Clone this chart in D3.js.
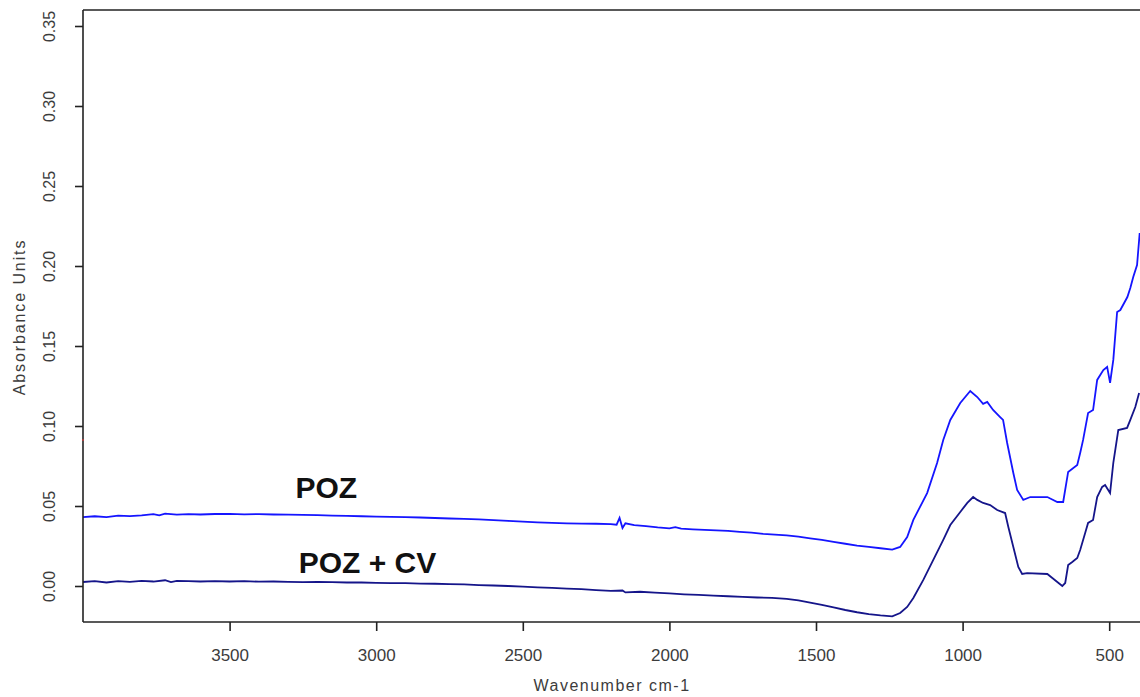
<!DOCTYPE html>
<html>
<head>
<meta charset="utf-8">
<script src="https://cdn.jsdelivr.net/npm/d3@7"></script>
<style>
  html, body { margin: 0; padding: 0; background: #fff; }
  svg { display: block; }
  text { font-family: Arial, "Liberation Sans", sans-serif; }
</style>
</head>
<body>
<svg id="chart" width="1140" height="697"></svg>
<script>
// ---- data ----
const xTicks = [3500, 3000, 2500, 2000, 1500, 1000, 500];
const yTicks = [0.00, 0.05, 0.10, 0.15, 0.20, 0.25, 0.30, 0.35];
const seriesNames = ["POZ", "POZ + CV"];

// POZ: [wavenumber, absorbance]
const pozWave = [4000,3960,3920,3880,3840,3800,3760,3740,3720,3680,3640,3600,3550,3500,3450,3400,3350,3300,3250,3200,3150,3100,3050,3000,2950,2900,2850,2800,2750,2700,2650,2600,2550,2500,2450,2400,2350,2300,2250,2200,2180,2170,2160,2150,2120,2080,2040,2000,1980,1960,1920,1880,1840,1800,1760,1720,1680,1640,1600,1560,1520,1480,1440,1400,1360,1320,1280,1240,1213,1189,1168,1121,1087,1066,1042,1008,974,950,930,916,896,872,862,848,827,814,793,769,711,677,657,640,609,599,589,572,555,541,520,507,497,486,473,462,438,428,418,405,396];
const pozAbs  = [0.0430,0.0436,0.0431,0.0440,0.0437,0.0442,0.0449,0.0441,0.0452,0.0446,0.0449,0.0447,0.0450,0.0451,0.0448,0.0449,0.0447,0.0446,0.0444,0.0443,0.0440,0.0438,0.0436,0.0434,0.0432,0.0430,0.0428,0.0425,0.0422,0.0420,0.0416,0.0412,0.0407,0.0402,0.0398,0.0394,0.0392,0.0390,0.0389,0.0387,0.0383,0.0425,0.0362,0.0392,0.0380,0.0374,0.0366,0.0360,0.0368,0.0358,0.0354,0.0351,0.0348,0.0344,0.0338,0.0333,0.0326,0.0321,0.0316,0.0308,0.0298,0.0288,0.0276,0.0264,0.0252,0.0244,0.0236,0.0228,0.0244,0.0306,0.0413,0.0581,0.0769,0.0913,0.1038,0.1144,0.1219,0.1181,0.1138,0.1150,0.1100,0.1056,0.1038,0.0894,0.0706,0.0600,0.0538,0.0556,0.0556,0.0525,0.0525,0.0713,0.0756,0.0831,0.0913,0.1081,0.1100,0.1288,0.1350,0.1369,0.1269,0.1413,0.1713,0.1725,0.1806,0.1863,0.1931,0.2006,0.2206];

// POZ + CV: [wavenumber, absorbance]
const cvWave = [4000,3960,3920,3880,3840,3800,3760,3720,3700,3680,3640,3600,3550,3500,3450,3400,3350,3300,3250,3200,3150,3100,3050,3000,2950,2900,2850,2800,2750,2700,2650,2600,2550,2500,2450,2400,2350,2300,2250,2200,2160,2150,2100,2050,2000,1950,1900,1850,1800,1750,1700,1650,1600,1560,1520,1480,1440,1400,1360,1320,1280,1240,1213,1189,1168,1134,1100,1066,1042,1008,984,964,950,930,906,882,855,844,827,810,797,780,711,694,660,650,640,626,609,599,582,572,555,541,524,514,497,486,469,439,428,411,398];
const cvAbs  = [0.0025,0.0030,0.0022,0.0030,0.0026,0.0032,0.0028,0.0036,0.0024,0.0032,0.0030,0.0028,0.0030,0.0028,0.0030,0.0027,0.0028,0.0026,0.0024,0.0026,0.0024,0.0022,0.0022,0.0020,0.0018,0.0018,0.0015,0.0014,0.0012,0.0010,0.0006,0.0003,0.0000,-0.0004,-0.0008,-0.0012,-0.0016,-0.0020,-0.0026,-0.0030,-0.0028,-0.0040,-0.0036,-0.0042,-0.0046,-0.0052,-0.0056,-0.0060,-0.0064,-0.0068,-0.0072,-0.0074,-0.0080,-0.0090,-0.0104,-0.0118,-0.0134,-0.0150,-0.0164,-0.0176,-0.0184,-0.0190,-0.0169,-0.0131,-0.0075,0.0038,0.0163,0.0288,0.0381,0.0463,0.0519,0.0556,0.0538,0.0519,0.0506,0.0475,0.0456,0.0369,0.0244,0.0119,0.0075,0.0081,0.0075,0.0050,0.0000,0.0019,0.0131,0.0150,0.0175,0.0225,0.0331,0.0394,0.0413,0.0556,0.0619,0.0631,0.0581,0.0769,0.0975,0.0988,0.1038,0.1119,0.1206];

// ---- chart ----
const svg = d3.select("#chart");
const mLeft = 83, mTop = 10, mBottom = 622, mRight = 1140;

const x = d3.scaleLinear().domain([4000, 400]).range([mLeft, mLeft + 3600 * 0.2932]);
const y = d3.scaleLinear().domain([-0.0225, 0.36]).range([mBottom, mTop]);

const line = d3.line().x(d => x(d[0])).y(d => y(d[1]));
const poz = pozWave.map((w, i) => [w, pozAbs[i]]);
const cv = cvWave.map((w, i) => [w, cvAbs[i]]);

svg.append("path").datum(poz)
  .attr("fill", "none").attr("stroke", "#1515ff").attr("stroke-width", 1.8)
  .attr("d", line);
svg.append("path").datum(cv)
  .attr("fill", "none").attr("stroke", "#15158a").attr("stroke-width", 1.8)
  .attr("d", line);

// frame
svg.append("line").attr("x1", mLeft).attr("x2", mRight + 2).attr("y1", mTop).attr("y2", mTop)
  .attr("stroke", "#222").attr("stroke-width", 1.6);
svg.append("line").attr("x1", mLeft).attr("x2", mRight + 2).attr("y1", mBottom).attr("y2", mBottom)
  .attr("stroke", "#222").attr("stroke-width", 1.6);
svg.append("line").attr("x1", mLeft).attr("x2", mLeft).attr("y1", mTop).attr("y2", mBottom)
  .attr("stroke", "#222").attr("stroke-width", 1.6);

// small red mark on axis
svg.append("line").attr("x1", mLeft - 1).attr("x2", mLeft + 1).attr("y1", 440).attr("y2", 440)
  .attr("stroke", "#e33").attr("stroke-width", 1);

// y axis
const yAxis = svg.append("g").attr("transform", `translate(${mLeft},0)`)
  .call(d3.axisLeft(y).tickValues(yTicks).tickSize(8).tickSizeOuter(0).tickFormat(d3.format(".2f")));
yAxis.select(".domain").remove();
yAxis.selectAll(".tick line").attr("stroke", "#222").attr("stroke-width", 1.6);
yAxis.selectAll(".tick text")
  .attr("font-size", 16).attr("fill", "#3c3c3c")
  .attr("text-anchor", "middle")
  .attr("x", 0).attr("y", 0).attr("dy", 0)
  .attr("transform", "translate(-34,0) rotate(-90)")
  .attr("dominant-baseline", "central");

// x axis
const xAxis = svg.append("g").attr("transform", `translate(0,${mBottom})`)
  .call(d3.axisBottom(x).tickValues(xTicks).tickSize(9).tickSizeOuter(0).tickFormat(d3.format("d")));
xAxis.select(".domain").remove();
xAxis.selectAll(".tick line").attr("stroke", "#222").attr("stroke-width", 1.6);
xAxis.selectAll(".tick text")
  .attr("font-size", 17).attr("fill", "#3c3c3c")
  .attr("y", 0).attr("dy", 0)
  .attr("transform", "translate(0,39)");

// axis titles
svg.append("text")
  .attr("transform", "translate(25,317) rotate(-90)")
  .attr("text-anchor", "middle")
  .attr("font-size", 16).attr("letter-spacing", 1.9).attr("fill", "#3c3c3c")
  .text("Absorbance Units");
svg.append("text")
  .attr("x", 612).attr("y", 691)
  .attr("text-anchor", "middle")
  .attr("font-size", 16).attr("letter-spacing", 1.5).attr("fill", "#3c3c3c")
  .text("Wavenumber cm-1");

// series labels
svg.append("text").attr("x", x(3170)).attr("y", 498)
  .attr("text-anchor", "middle").attr("font-size", 30).attr("font-weight", "bold").attr("fill", "#111")
  .text(seriesNames[0]);
svg.append("text").attr("x", x(3030)).attr("y", 573)
  .attr("text-anchor", "middle").attr("font-size", 30).attr("font-weight", "bold").attr("fill", "#111")
  .text(seriesNames[1]);
</script>
</body>
</html>
